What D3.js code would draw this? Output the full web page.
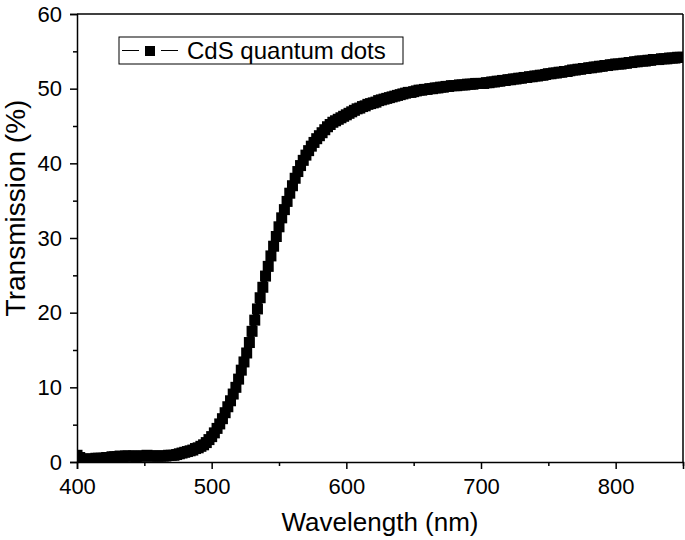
<!DOCTYPE html>
<meta charset="utf-8">
<style>
body { margin: 0; background: #fff; }
text { font-family: "Liberation Sans", Arial, sans-serif; fill: #000; }
.axis path, .axis line { stroke: #000; stroke-width: 1.5px; }
</style>
<svg width="685" height="540"></svg>
<script src="https://d3js.org/d3.v7.min.js"></script>
<script>

// wavelength start / step (nm) and transmission (%)
var wlStart = 400, wlStep = 2;
var transmission = [
  0.9,0.6,0.4,0.4,0.3,0.4,0.4,0.5,0.5,0.5,
  0.5,0.6,0.6,0.7,0.7,0.7,0.8,0.7,0.8,0.8,
  0.8,0.8,0.7,0.8,0.8,0.8,0.9,0.8,0.8,0.8,
  0.8,0.8,0.8,0.8,0.9,0.9,0.9,1.0,1.1,1.2,
  1.3,1.4,1.5,1.6,1.8,1.9,2.1,2.3,2.6,3.0,
  3.4,3.9,4.5,5.1,5.8,6.6,7.4,8.2,9.1,10.0,
  11.1,12.3,13.4,14.6,16.0,17.5,19.0,20.5,22.0,23.4,
  24.9,26.2,27.6,28.9,30.2,31.5,32.7,33.8,34.9,36.0,
  37.0,38.0,38.9,39.7,40.4,41.1,41.7,42.3,42.8,43.3,
  43.7,44.1,44.5,44.9,45.2,45.5,45.7,45.9,46.1,46.3,
  46.5,46.7,46.9,47.1,47.3,47.4,47.6,47.7,47.9,48.0,
  48.1,48.2,48.4,48.5,48.6,48.7,48.8,48.9,49.0,49.1,
  49.2,49.3,49.4,49.5,49.5,49.6,49.7,49.8,49.8,49.9,
  49.9,50.0,50.0,50.1,50.1,50.2,50.2,50.3,50.3,50.4,
  50.4,50.4,50.5,50.5,50.5,50.6,50.6,50.6,50.7,50.7,
  50.7,50.7,50.8,50.8,50.9,50.9,51.0,51.0,51.1,51.1,
  51.2,51.2,51.3,51.3,51.4,51.4,51.5,51.5,51.6,51.6,
  51.7,51.7,51.8,51.8,51.9,52.0,52.0,52.1,52.1,52.2,
  52.2,52.3,52.3,52.4,52.5,52.5,52.6,52.6,52.7,52.7,
  52.8,52.8,52.9,52.9,53.0,53.0,53.1,53.1,53.2,53.2,
  53.3,53.3,53.3,53.4,53.4,53.5,53.5,53.6,53.6,53.7,
  53.7,53.7,53.8,53.8,53.9,53.9,53.9,54.0,54.0,54.0,
  54.1,54.1,54.1,54.2,54.2,54.2
];
var xMajor = [400, 500, 600, 700, 800];
var xMinor = [450, 550, 650, 750, 850];
var yMajor = [0, 10, 20, 30, 40, 50, 60];
var yMinor = [5, 15, 25, 35, 45, 55];
var seriesName = "CdS quantum dots";

var data = transmission.map(function(v, i) { return { x: wlStart + i * wlStep, y: v }; });

var margin = { top: 14, right: 2, bottom: 78, left: 77 };
var svg = d3.select("svg");
var width = 685 - margin.left - margin.right;
var height = 540 - margin.top - margin.bottom;

var g = svg.append("g").attr("transform", "translate(" + margin.left + "," + margin.top + ")");

var x = d3.scaleLinear().domain([400, 850]).range([0, width]);
var y = d3.scaleLinear().domain([0, 60]).range([height, 0]);

g.append("defs").append("clipPath").attr("id", "clip")
  .append("rect").attr("width", width).attr("height", height);

// data: line + square markers
var plot = g.append("g").attr("clip-path", "url(#clip)");
plot.append("path")
    .datum(data)
    .attr("fill", "none")
    .attr("stroke", "#000")
    .attr("stroke-width", 6)
    .attr("d", d3.line().x(function(d) { return x(d.x); }).y(function(d) { return y(d.y); }));

var ms = 11;
plot.selectAll("rect")
    .data(data)
    .enter().append("rect")
      .attr("x", function(d) { return x(d.x) - ms / 2; })
      .attr("y", function(d) { return y(d.y) - ms / 2; })
      .attr("width", ms)
      .attr("height", ms)
      .attr("fill", "#000");

// frame top/right
g.append("line").attr("x1", 0).attr("x2", width).attr("y1", 0).attr("y2", 0)
    .attr("stroke", "#000").attr("stroke-width", 1.5);
g.append("line").attr("x1", width).attr("x2", width).attr("y1", 0).attr("y2", height)
    .attr("stroke", "#000").attr("stroke-width", 1.5);

// axes
g.append("g").attr("class", "axis")
    .attr("transform", "translate(0," + height + ")")
    .call(d3.axisBottom(x).tickValues(xMajor).tickSize(7).tickPadding(9).tickFormat(d3.format("d")));
g.append("g").attr("class", "axis")
    .attr("transform", "translate(0," + height + ")")
    .call(d3.axisBottom(x).tickValues(xMinor).tickSize(4).tickFormat(""))
    .select(".domain").remove();

g.append("g").attr("class", "axis")
    .call(d3.axisLeft(y).tickValues(yMajor).tickSize(7).tickPadding(8).tickFormat(d3.format("d")));
g.append("g").attr("class", "axis")
    .call(d3.axisLeft(y).tickValues(yMinor).tickSize(4).tickFormat(""))
    .select(".domain").remove();

g.selectAll(".axis text").style("font-size", "22px").style("font-family", "Liberation Sans, Arial, sans-serif");

// axis titles
svg.append("text")
    .attr("x", 380)
    .attr("y", 531)
    .attr("text-anchor", "middle")
    .style("font-size", "26px")
    .text("Wavelength (nm)");

svg.append("text")
    .attr("transform", "translate(25,208) rotate(-90)")
    .attr("text-anchor", "middle")
    .style("font-size", "28px")
    .text("Transmission (%)");

// legend
var lg = svg.append("g").attr("transform", "translate(119,37)");
lg.append("rect").attr("width", 284).attr("height", 27)
    .attr("fill", "#fff").attr("stroke", "#000").attr("stroke-width", 1);
lg.append("line").attr("x1", 3).attr("x2", 20).attr("y1", 13.5).attr("y2", 13.5)
    .attr("stroke", "#000").attr("stroke-width", 1);
lg.append("line").attr("x1", 42).attr("x2", 59).attr("y1", 13.5).attr("y2", 13.5)
    .attr("stroke", "#000").attr("stroke-width", 1);
lg.append("rect").attr("x", 26).attr("y", 9).attr("width", 10).attr("height", 10).attr("fill", "#000");
lg.append("text").attr("x", 68).attr("y", 22).style("font-size", "24px").text(seriesName);

</script>
